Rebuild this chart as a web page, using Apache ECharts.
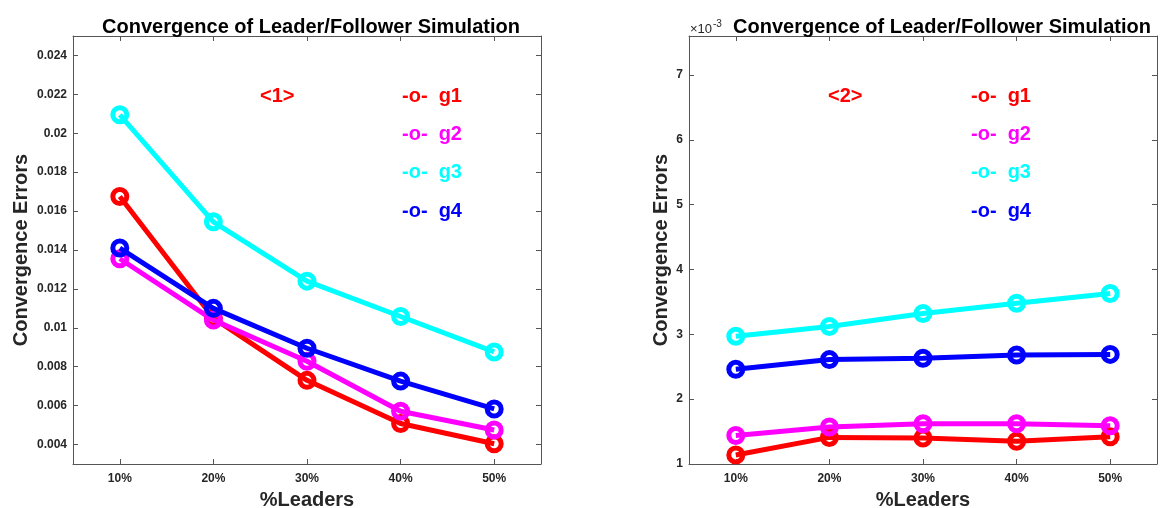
<!DOCTYPE html>
<html><head><meta charset="utf-8">
<script src="https://cdn.jsdelivr.net/npm/echarts@6/dist/echarts.min.js"></script>
<style>html,body{margin:0;padding:0;background:#fff}#c{width:1163px;height:508px}</style>
</head><body><div id="c"></div>
<script>
// ---- data ----
const categories = ['10%', '20%', '30%', '40%', '50%'];
const seriesNames = ['g1', 'g2', 'g3', 'g4'];
const colors = ['#ff0000', '#ff00ff', '#00ffff', '#0000ff'];

// plot <1> : Convergence Errors
const p1_g1 = [0.01675, 0.01050, 0.00730, 0.00508, 0.00404];
const p1_g2 = [0.01355, 0.01040, 0.00828, 0.00571, 0.00475];
const p1_g3 = [0.02095, 0.01545, 0.01240, 0.01058, 0.00876];
const p1_g4 = [0.01410, 0.01100, 0.00895, 0.00726, 0.00583];

// plot <2> : Convergence Errors, in units of 10^-3
const p2_g1 = [1.14, 1.41, 1.40, 1.35, 1.42];
const p2_g2 = [1.44, 1.57, 1.62, 1.62, 1.59];
const p2_g3 = [2.97, 3.12, 3.32, 3.48, 3.63];
const p2_g4 = [2.46, 2.61, 2.63, 2.68, 2.69];

const p1Ticks = [0.004, 0.006, 0.008, 0.010, 0.012, 0.014, 0.016, 0.018, 0.020, 0.022, 0.024];
const p2Ticks = [1, 2, 3, 4, 5, 6, 7];

const titleText = 'Convergence of Leader/Follower Simulation';
const xName = '%Leaders';
const yName = 'Convergence Errors';
const panelTags = ['<1>', '<2>'];

// ---- chart ----
const FONT = '"Liberation Sans", Arial, Helvetica, sans-serif';
const AX = '#555555';
const TXT = '#262626';
const chart = echarts.init(document.getElementById('c'), null, {renderer: 'canvas'});

const grids = [
  {left: 73, right: 622, top: 36, bottom: 44},
  {left: 689, right: 6, top: 36, bottom: 44}
];

function xAx(gi, pos) {
  return {
    type: 'category', gridIndex: gi, position: pos, data: categories,
    boundaryGap: true,
    axisLine: {show: true, onZero: false, lineStyle: {color: AX, width: 1}},
    axisTick: {show: true, inside: true, length: 5, alignWithLabel: true, lineStyle: {color: AX}},
    axisLabel: {show: pos === 'bottom', margin: 9, color: TXT, fontFamily: FONT, fontWeight: 'bold', fontSize: 12},
    splitLine: {show: false}
  };
}
function yAx(gi, pos, min, max, ticks, fmt) {
  return {
    type: 'value', gridIndex: gi, position: pos, min: min, max: max,
    axisLine: {show: true, onZero: false, lineStyle: {color: AX, width: 1}},
    axisTick: {show: true, inside: true, length: 5, customValues: ticks, lineStyle: {color: AX}},
    axisLabel: {show: pos === 'left', customValues: ticks, margin: 6, color: TXT, fontFamily: FONT,
      fontWeight: 'bold', fontSize: 12, formatter: fmt},
    splitLine: {show: false}
  };
}
const fmt1 = v => String(parseFloat(Number(v).toFixed(3)));
const fmt2 = v => String(Math.round(v));

function mkSeries(data, i, xi, yi) {
  return {
    type: 'line', name: seriesNames[i], data: data, xAxisIndex: xi, yAxisIndex: yi,
    symbol: 'circle', symbolSize: 14,
    itemStyle: {color: 'rgba(0,0,0,0)', borderColor: colors[i], borderWidth: 5},
    lineStyle: {color: colors[i], width: 5},
    emphasis: {disabled: true}, silent: true, z: 2 + i
  };
}
const p1 = [p1_g1, p1_g2, p1_g3, p1_g4];
const p2 = [p2_g1, p2_g2, p2_g3, p2_g4];
const series = [];
p1.forEach((d, i) => series.push(mkSeries(d, i, 0, 0)));
p2.forEach((d, i) => series.push(mkSeries(d, i, 2, 2)));

const graphics = [];
const legendX = [402, 971];
const tagX = [260, 828];
const plotCenter = [307, 923];
const yNameX = [21, 661];
[0, 1].forEach(p => {
  seriesNames.forEach((n, i) => {
    graphics.push({type: 'text', x: legendX[p], y: 96 + 38.4 * i, silent: true,
      style: {text: '-o-  ' + n, fill: colors[i], font: 'bold 20px ' + FONT, textAlign: 'left', textVerticalAlign: 'middle'}});
  });
  graphics.push({type: 'text', x: tagX[p], y: 96, silent: true,
    style: {text: panelTags[p], fill: '#ff0000', font: 'bold 20px ' + FONT, textAlign: 'left', textVerticalAlign: 'middle'}});
  graphics.push({type: 'text', x: plotCenter[p], y: 500, silent: true,
    style: {text: xName, fill: TXT, font: 'bold 20px ' + FONT, textAlign: 'center', textVerticalAlign: 'middle'}});
  graphics.push({type: 'text', x: yNameX[p], y: 250, rotation: Math.PI / 2, silent: true,
    style: {text: yName, fill: TXT, font: 'bold 20px ' + FONT, textAlign: 'center', textVerticalAlign: 'middle'}});
});
// exponent label for plot <2>
graphics.push({type: 'text', x: 690, y: 29, silent: true,
  style: {text: '\u00d710', fill: TXT, font: '13px ' + FONT, textAlign: 'left', textVerticalAlign: 'middle'}});
graphics.push({type: 'text', x: 713, y: 24, silent: true,
  style: {text: '-3', fill: TXT, font: '10px ' + FONT, textAlign: 'left', textVerticalAlign: 'middle'}});

chart.setOption({
  animation: false,
  backgroundColor: '#ffffff',
  title: [
    {text: titleText, left: 306, top: 12, textAlign: 'center',
      textStyle: {fontFamily: FONT, fontWeight: 'bold', fontSize: 20, color: '#000', lineHeight: 20}},
    {text: titleText, left: 937, top: 12, textAlign: 'center',
      textStyle: {fontFamily: FONT, fontWeight: 'bold', fontSize: 20, color: '#000', lineHeight: 20}}
  ],
  grid: grids,
  xAxis: [xAx(0, 'bottom'), xAx(0, 'top'), xAx(1, 'bottom'), xAx(1, 'top')],
  yAxis: [
    yAx(0, 'left', 0.003, 0.025, p1Ticks, fmt1), yAx(0, 'right', 0.003, 0.025, p1Ticks, fmt1),
    yAx(1, 'left', 1, 7.6, p2Ticks, fmt2), yAx(1, 'right', 1, 7.6, p2Ticks, fmt2)
  ],
  series: series,
  graphic: graphics
});
</script>
</body></html>
